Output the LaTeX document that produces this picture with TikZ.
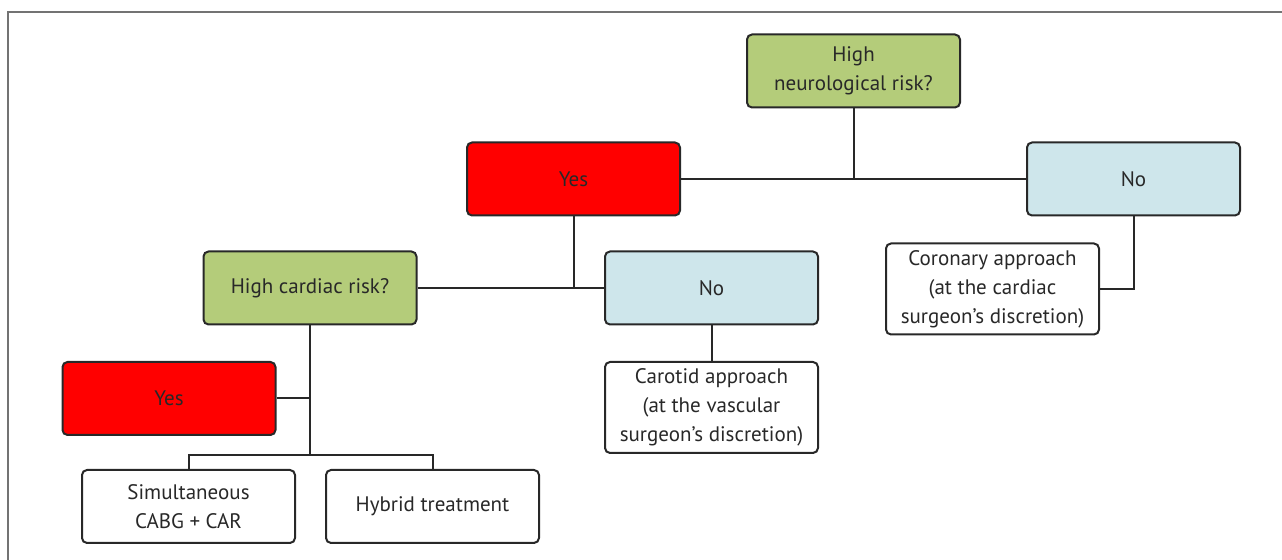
\documentclass[tikz,border=0pt]{standalone}
\usepackage{fontspec}
\setmainfont{PT Sans}
\usepackage{tikz}
\usetikzlibrary{positioning}
\usetikzlibrary{calc}
\definecolor{askgreen}{RGB}{180,204,122}
\definecolor{yesred}{RGB}{255,0,0}
\definecolor{nocyan}{RGB}{206,230,235}
\definecolor{inkgray}{RGB}{40,40,40}
\tikzstyle{choice}=[rectangle,rounded corners=2.5pt,draw=inkgray,line width=1pt,minimum width=106.5pt,minimum height=36.5pt,inner sep=2pt,align=center,text=inkgray,font=\fontsize{10.5}{14.5}\selectfont]
\tikzstyle{outcome}=[choice,fill=white,minimum height=45.5pt]
\tikzstyle{link} = [draw,line width=1pt,inkgray]
\tikzstyle{framerule} = [draw,line width=0.8pt,black!55]

\begin{document}
\begin{tikzpicture}[x=0.5pt,y=-0.5pt]
    \useasboundingbox (0,0) rectangle (1282,560);
    \path[framerule] (1282,12) -- (8,12) -- (8,560);

    \foreach \pos/\name/\label in {{(853.5,71)/HNR/{High\\neurological risk?}}, {(310,288)/HCR/{High cardiac risk?}}}
        \node[choice,fill=askgreen] (\name) at \pos {\label};

    \foreach \pos/\name/\label in {{(573.5,179)/Y1/Yes}, {(169,398.5)/Y2/Yes}}
        \node[choice,fill=yesred] (\name) at \pos {\label};

    \foreach \pos/\name/\label in {{(1133.5,179)/N1/No}, {(711.5,288)/N2/No}}
        \node[choice,fill=nocyan] (\name) at \pos {\label};

    \foreach \pos/\name/\label in {{(992.5,289)/CORO/{Coronary approach\\(at the cardiac\\surgeon’s discretion)}}, {(711.5,407.5)/CARO/{Carotid approach\\(at the vascular\\surgeon’s discretion)}}}
        \node[outcome] (\name) at \pos {\label};

    \foreach \pos/\name/\label in {{(188.5,506.5)/SIM/{Simultaneous\\CABG + CAR}}, {(432.5,506.5)/HYB/{Hybrid treatment}}}
        \node[outcome,minimum height=36.5pt] (\name) at \pos {\label};

    \coordinate (split) at (310,455);

    \foreach \source/ \dest in {HNR.south/Y1.east, Y1.south/HCR.east}
        \path[link] (\source) -- (\source |- \dest);
    \foreach \source/ \dest in {Y1/N1, HCR/N2, N2/CARO, HCR/split}
        \path[link] (\source) -- (\dest);
    \path[link] (N1.south) |- (CORO.east);
    \path[link] (Y2.east) -- (Y2.east -| split);
    \path[link] (SIM.north) |- (split) -| (HYB.north);
\end{tikzpicture}
\end{document}
